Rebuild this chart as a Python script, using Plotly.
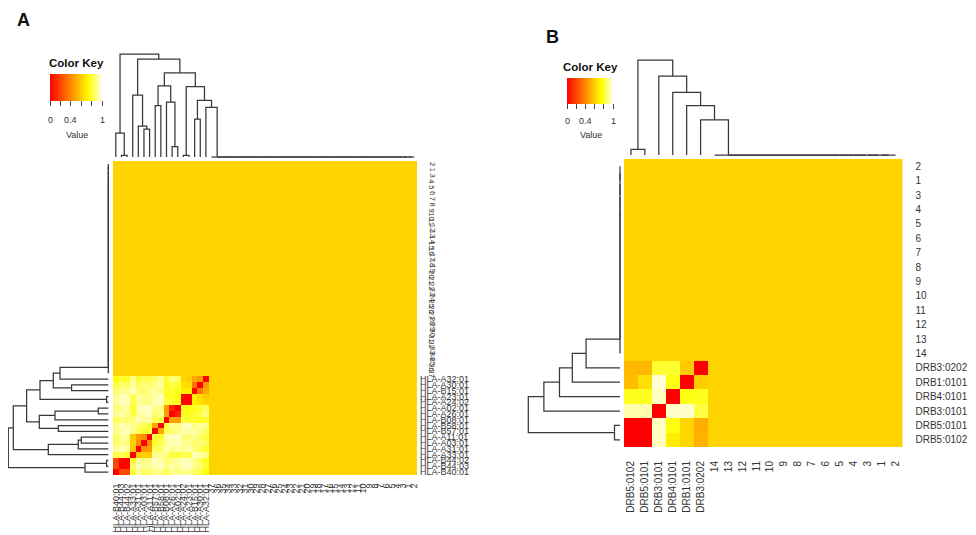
import plotly.graph_objects as go

W, H = 976, 535
OFF = 8  # page body margin offset of the figure inside the window
FONT = "Liberation Sans, Arial, sans-serif"

# ---------------- Panel A data ----------------
A_NUM = ["2", "1", "3", "4", "5", "6", "7", "8", "9", "10", "11", "12", "13", "14",
         "15", "16", "17", "18", "19", "20", "21", "22", "23", "24", "25", "26", "27",
         "28", "29", "30", "31", "32", "33", "34", "35", "36", "37"]
A_HLA = ["HLA-A32:01", "HLA-A30:01", "HLA-B15:01", "HLA-A23:01", "HLA-A24:02",
         "HLA-A02:01", "HLA-A26:01", "HLA-B08:01", "HLA-B58:01", "HLA-B57:01",
         "HLA-A11:01", "HLA-A03:01", "HLA-A31:01", "HLA-A33:01", "HLA-B44:02",
         "HLA-B44:03", "HLA-B40:01"]
A_BG = 0.62
A_HLA_DIST = [
    [0, .45, .50, .60, .62, .85, .88, .80, .90, .86, .82, .84, .80, .90, .78, .80, .76],
    [.45, 0, .35, .65, .66, .80, .82, .78, .92, .90, .86, .88, .84, .92, .85, .86, .82],
    [.50, .35, 0, .70, .70, .78, .80, .80, .88, .92, .90, .86, .88, .95, .90, .90, .86],
    [.60, .65, .70, 0, .02, .76, .78, .80, .95, .92, .88, .90, .92, .82, .94, .95, .90],
    [.62, .66, .70, .02, 0, .78, .80, .82, .95, .93, .88, .90, .90, .84, .94, .95, .90],
    [.85, .80, .78, .76, .78, 0, .10, .45, .88, .90, .95, .95, .92, .80, .92, .90, .88],
    [.88, .82, .80, .78, .80, .10, 0, .48, .90, .86, .95, .93, .90, .82, .90, .92, .90],
    [.80, .78, .80, .80, .82, .45, .48, 0, .82, .84, .92, .90, .94, .88, .86, .88, .84],
    [.90, .92, .88, .95, .95, .88, .90, .82, 0, .50, .80, .84, .86, .90, .92, .95, .88],
    [.86, .90, .92, .92, .93, .90, .86, .84, .50, 0, .82, .80, .84, .90, .95, .92, .90],
    [.82, .86, .90, .88, .88, .95, .95, .92, .80, .82, 0, .40, .45, .60, .90, .92, .85],
    [.84, .88, .86, .90, .90, .95, .93, .90, .84, .80, .40, 0, .42, .62, .88, .90, .86],
    [.80, .84, .88, .92, .90, .92, .90, .94, .86, .84, .45, .42, 0, .58, .92, .94, .90],
    [.90, .92, .95, .82, .84, .80, .82, .88, .90, .90, .60, .62, .58, 0, .80, .85, .82],
    [.78, .85, .90, .94, .94, .92, .90, .86, .92, .95, .90, .88, .92, .80, 0, .02, .20],
    [.80, .86, .90, .95, .95, .90, .92, .88, .95, .92, .92, .90, .94, .85, .02, 0, .22],
    [.76, .82, .86, .90, .90, .88, .90, .84, .88, .90, .85, .86, .90, .82, .20, .22, 0],
]
# merges: (new node, child a, child b, height) ; "NUM" = zero-height chain of A_NUM
A_MERGES = [
    ("A1", "NUM", "HLA-A32:01", 0.483),
    ("A2", "HLA-A30:01", "HLA-B15:01", 0.367),
    ("A3", "A1", "A2", 0.55),
    ("A4", "HLA-A23:01", "HLA-A24:02", 0.017),
    ("A5", "A3", "A4", 0.683),
    ("B1", "HLA-A02:01", "HLA-A26:01", 0.10),
    ("B2", "B1", "HLA-B08:01", 0.533),
    ("B3", "HLA-B58:01", "HLA-B57:01", 0.50),
    ("B4", "B2", "B3", 0.69),
    ("A6", "A5", "B4", 0.817),
    ("D1", "HLA-A11:01", "HLA-A03:01", 0.27),
    ("D2", "D1", "HLA-A31:01", 0.30),
    ("D3", "D2", "HLA-A33:01", 0.60),
    ("A7", "A6", "D3", 0.95),
    ("E1", "HLA-B44:02", "HLA-B44:03", 0.017),
    ("E2", "E1", "HLA-B40:01", 0.233),
    ("ROOT", "A7", "E2", 1.0),
]

# ---------------- Panel B data ----------------
B_NUM = ["2", "1", "3", "4", "5", "6", "7", "8", "9", "10", "11", "12", "13", "14"]
B_DRB = ["DRB3:0202", "DRB1:0101", "DRB4:0101", "DRB3:0101", "DRB5:0101", "DRB5:0102"]
B_BG = 0.62
# rows in B_DRB order, columns in reversed B_DRB order (as displayed)
B_BLOCK = [
    [0.54, 0.54, 0.80, 0.80, 0.59, 0.00],
    [0.56, 0.66, 0.97, 0.77, 0.00, 0.60],
    [0.78, 0.78, 0.95, 0.00, 0.77, 0.78],
    [0.93, 0.93, 0.00, 0.96, 0.96, 0.82],
    [0.00, 0.00, 0.95, 0.76, 0.63, 0.51],
    [0.00, 0.00, 0.95, 0.70, 0.63, 0.52],
]
B_MERGES = [
    ("M1", "NUM", "DRB3:0202", 0.37),
    ("M2", "M1", "DRB1:0101", 0.52),
    ("M3", "M2", "DRB4:0101", 0.66),
    ("M4", "M3", "DRB3:0101", 0.83),
    ("M5", "DRB5:0101", "DRB5:0102", 0.06),
    ("ROOT", "M4", "M5", 1.0),
]

COLORSCALE = [[0.0, "#FF0000"], [0.75, "#FFFF00"], [1.0, "#FFFFF0"]]
KEY_TICKS = [0, 0.2, 0.4, 0.6, 0.8, 1]
KEY_LABELS = [(0, "0"), (0.4, "0.4"), (1, "1")]


# ---------------- helpers ----------------
def PX(p):
    return (p - OFF) / W


def PY(p):
    return 1 - (p - OFF) / H


def xd(a, b):
    return [max(0.0, PX(a)), min(1.0, PX(b))]


def yd(top, bottom):
    return [max(0.0, PY(bottom)), min(1.0, PY(top))]


def build_matrix(num, special, block_fn, bg):
    rows = num + special
    cols = rows[::-1]
    z = []
    for r in rows:
        line = []
        for c in cols:
            if r in special and c in special:
                line.append(block_fn(r, c))
            else:
                line.append(bg)
        z.append(line)
    return rows, cols, z


def dendro(order, chain, merges):
    pos = {n: i for i, n in enumerate(order)}
    hgt = {n: 0.0 for n in order}
    P, Hh = [], []

    def join(a, b, h, new):
        pa, pb, ha, hb = pos[a], pos[b], hgt[a], hgt[b]
        P.extend([pa, pa, pb, pb, None])
        Hh.extend([ha, h, h, hb, None])
        pos[new] = (pa + pb) / 2
        hgt[new] = h

    cur = chain[0]
    for k, leaf in enumerate(chain[1:]):
        nn = "chain%d" % k
        join(cur, leaf, 0.0, nn)
        cur = nn
    pos["NUM"], hgt["NUM"] = pos[cur], 0.0
    for new, a, b, h in merges:
        join(a, b, h, new)
    return P, Hh


PAD = 0.03
LINE = dict(color="#383838", width=1.25)

fig = go.Figure()
layout = dict(width=W, height=H, margin=dict(l=0, r=0, t=0, b=0, autoexpand=False),
              paper_bgcolor="white", plot_bgcolor="white", showlegend=False,
              font=dict(family=FONT, color="#333"))
annotations = []


def note(x, y, text, size, color="#333", xanchor="center", yanchor="middle", **kw):
    d = dict(x=x, y=y, xref="paper", yref="paper", text=text, showarrow=False,
             xanchor=xanchor, yanchor=yanchor,
             font=dict(size=size, color=color, family=FONT))
    d.update(kw)
    annotations.append(d)


def hidden(**kw):
    d = dict(visible=False, showgrid=False, zeroline=False, fixedrange=True)
    d.update(kw)
    return d


def panel(idx, num, special, block_fn, bg, merges, heat_px, colden_px, rowden_px,
          key_px, key_text_y, label_font, right_mode):
    rows, cols, z = build_matrix(num, special, block_fn, bg)
    n = len(rows)
    hx0, hx1, hy0, hy1 = heat_px
    kx0, kx1, ky0, ky1 = key_px
    ax = [str(3 * idx + k) if 3 * idx + k > 1 else "" for k in (1, 2, 3)]
    xa, ya = "x" + ax[0], "y" + ax[0]
    fig.add_trace(go.Heatmap(
        z=z, x=list(range(n)), y=list(range(n)), xaxis=xa, yaxis=ya,
        colorscale=COLORSCALE, zmin=0, zmax=1, hoverinfo="skip",
        colorbar=dict(orientation="h", x=PX(kx0), xanchor="left", y=PY(ky0),
                      yanchor="top", len=kx1 - kx0, lenmode="pixels",
                      thickness=ky1 - ky0, thicknessmode="pixels",
                      tickmode="array", tickvals=KEY_TICKS, ticktext=[""] * len(KEY_TICKS),
                      ticks="outside", ticklen=5, tickwidth=1, tickcolor="#444",
                      tickfont=dict(size=1, color="white"),
                      outlinewidth=0, xpad=0, ypad=0)))
    layout["xaxis" + ax[0]] = dict(
        domain=xd(hx0, hx1), range=[-0.5, n - 0.5], anchor=ya,
        showgrid=False, zeroline=False, showline=False,
        tickmode="array", tickvals=list(range(n)), ticktext=cols,
        tickangle=-90, ticks="outside", ticklen=label_font["xlen"],
        tickcolor="rgba(0,0,0,0)",
        tickfont=dict(size=label_font["x"], color="#333", family=FONT))
    ydict = dict(domain=yd(hy0, hy1), range=[n - 0.5, -0.5], anchor=xa,
                 showgrid=False, zeroline=False, showline=False)
    if right_mode == "ticks":
        ydict.update(side="right", tickmode="array", tickvals=list(range(n)),
                     ticktext=rows, ticks="outside", ticklen=label_font["ylen"],
                     tickcolor="rgba(0,0,0,0)",
                     tickfont=dict(size=label_font["y"], color="#333", family=FONT))
    else:
        ydict.update(showticklabels=False)
        for i, r in enumerate(rows):
            if r in special:
                annotations.append(dict(x=PX(hx1 + 1), y=i, xref="paper", yref=ya,
                                        text=r, showarrow=False, xanchor="left",
                                        yanchor="middle",
                                        font=dict(size=9, color="#333", family=FONT)))
            else:
                annotations.append(dict(x=PX(hx1 + 15), y=i, xref="paper", yref=ya,
                                        text=r, showarrow=False, xanchor="center",
                                        yanchor="middle", textangle=90,
                                        font=dict(size=7.5, color="#333", family=FONT)))
    layout["yaxis" + ax[0]] = ydict

    # column dendrogram (height axis: baseline px cb -> 0, top px ct -> 1)
    cb, ct = colden_px
    span = cb - ct
    top_px = max(OFF, ct - PAD * span)
    bot_px = cb + PAD * span
    P, Hh = dendro(cols, num, merges)
    xa2, ya2 = "x" + ax[1], "y" + ax[1]
    fig.add_trace(go.Scatter(x=P, y=Hh, xaxis=xa2, yaxis=ya2, mode="lines",
                             line=LINE, hoverinfo="skip"))
    layout["xaxis" + ax[1]] = hidden(domain=xd(hx0, hx1), range=[-0.5, n - 0.5], anchor=ya2)
    layout["yaxis" + ax[1]] = hidden(domain=yd(top_px, bot_px),
                                     range=[(cb - bot_px) / span, (cb - top_px) / span],
                                     anchor=xa2)

    # row dendrogram (height axis: leaf px rl -> 0, root px rr -> 1)
    rl, rr = rowden_px
    span = rl - rr
    left_px = max(OFF, rr - PAD * span)
    right_px = rl + PAD * span
    P, Hh = dendro(rows, num, merges)
    xa3, ya3 = "x" + ax[2], "y" + ax[2]
    fig.add_trace(go.Scatter(x=Hh, y=P, xaxis=xa3, yaxis=ya3, mode="lines",
                             line=LINE, hoverinfo="skip"))
    layout["xaxis" + ax[2]] = hidden(domain=xd(left_px, right_px),
                                     range=[(rl - left_px) / span, (rl - right_px) / span],
                                     anchor=ya3)
    layout["yaxis" + ax[2]] = hidden(domain=yd(hy0, hy1), range=[n - 0.5, -0.5], anchor=xa3)

    # key texts
    kc = (kx0 + kx1) / 2
    note(PX(kc), PY(ky0 - 11), "<b>Color Key</b>", 11.5, color="#111")
    for v, t in KEY_LABELS:
        note(PX(kx0 + v * (kx1 - kx0)), PY(key_text_y[0]), t, 9)
    note(PX(kc + 1), PY(key_text_y[1]), "Value", 9)


HLA_IDX = {n: i for i, n in enumerate(A_HLA)}
panel(0, A_NUM, A_HLA, lambda r, c: A_HLA_DIST[HLA_IDX[r]][HLA_IDX[c]], A_BG, A_MERGES,
      heat_px=(113, 417, 161, 475), colden_px=(157, 54), rowden_px=(108.3, 8.3),
      key_px=(50, 102, 74, 101), key_text_y=(120, 135),
      label_font=dict(x=9, xlen=4, y=8, ylen=4), right_mode="annot")

DRB_ROW = {n: i for i, n in enumerate(B_DRB)}
DRB_COL = {n: i for i, n in enumerate(B_DRB[::-1])}
panel(1, B_NUM, B_DRB, lambda r, c: B_BLOCK[DRB_ROW[r]][DRB_COL[c]], B_BG, B_MERGES,
      heat_px=(624, 902.5, 159, 447), colden_px=(155, 60), rowden_px=(620, 528.3),
      key_px=(567, 613, 78, 104), key_text_y=(121, 135),
      label_font=dict(x=10, xlen=9, y=10, ylen=10), right_mode="ticks")

note(PX(23), PY(20), "<b>A</b>", 18, color="#111")
note(PX(552), PY(37), "<b>B</b>", 18, color="#111")
layout["annotations"] = annotations
fig.update_layout(**layout)
fig.write_html("out.html")
